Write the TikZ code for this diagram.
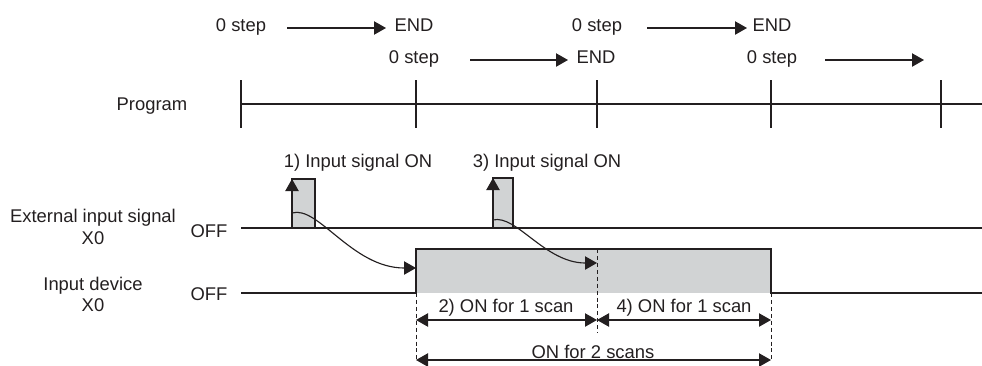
\documentclass[tikz,border=0pt]{standalone}
\usepackage{fontspec}
\setmainfont{Liberation Sans}
\usetikzlibrary{arrows.meta}
\definecolor{sig}{RGB}{209,211,212}
\definecolor{ink}{RGB}{35,31,32}
\tikzset{
  lbl/.style={inner sep=0pt, anchor=base, text=ink, font=\fontsize{13.8}{16}\selectfont},
  ln/.style={draw=ink, line width=0.85pt},
  tip/.style={-{Triangle[length=9pt,width=10pt]}},
  arr/.style={ln, tip},
  dim/.style={ln, {Triangle[length=9pt,width=10pt]}-{Triangle[length=9pt,width=10pt]}},
  dsh/.style={draw=ink, line width=0.75pt, dash pattern=on 3pt off 2.2pt},
  pulse/.style={fill=sig, draw=ink, line width=0.85pt}
}
\begin{document}
\begin{tikzpicture}[x=0.75pt,y=-0.75pt]
\useasboundingbox (0,0) rectangle (982,365);
% ---- program row texts
\node[lbl] (s1) at (241,31) {0 step};
\node[lbl] (e1) at (414,31) {END};
\node[lbl] (s2) at (597,31) {0 step};
\node[lbl] (e2) at (772,31) {END};
\node[lbl] (s3) at (414,63) {0 step};
\node[lbl] (e3) at (596,63) {END};
\node[lbl] (s4) at (772,63) {0 step};
\coordinate (a1s) at (287,28); \coordinate (a1e) at (386,28);
\coordinate (a2s) at (647,28); \coordinate (a2e) at (747,28);
\coordinate (a3s) at (470,60); \coordinate (a3e) at (568,60);
\coordinate (a4s) at (825,60); \coordinate (a4e) at (924,60);
\draw[arr] (a1s) -- (a1e);
\draw[arr] (a2s) -- (a2e);
\draw[arr] (a3s) -- (a3e);
\draw[arr] (a4s) -- (a4e);
% ---- program line
\node[lbl] (prog) at (152,110) {Program};
\coordinate (pl) at (240,104); \coordinate (pr) at (982,104);
\draw[ln] (pl) -- (pr);
\foreach \x/\n in {241/t1,416/t2,597/t3,771/t4,941/t5}{
  \coordinate (\n a) at (\x,80); \coordinate (\n b) at (\x,128);
  \draw[ln] (\n a) -- (\n b);
}
% ---- external input signal
\node[lbl] (ext1) at (93,222) {External input signal};
\node[lbl] (ext2) at (93,244) {X0};
\node[lbl] (off1) at (209,237) {OFF};
\node[lbl] (in1) at (358,167) {1) Input signal ON};
\node[lbl] (in3) at (547,167) {3) Input signal ON};
\coordinate (el) at (241,228); \coordinate (er) at (982,228);
\draw[ln] (el) -- (er);
\draw[pulse] (292,228) rectangle (315,179);
\draw[pulse] (493,228) rectangle (513,178);
\coordinate (p1b) at (292,228); \coordinate (p1t) at (292,179);
\coordinate (p3b) at (493,228); \coordinate (p3t) at (493,178);
\draw[arr] (p1b) -- (p1t);
\draw[arr] (p3b) -- (p3t);
% ---- input device
\node[lbl] (dev1) at (93,290) {Input device};
\node[lbl] (dev2) at (93,311) {X0};
\node[lbl] (off2) at (209,300) {OFF};
\fill[sig] (416,293) rectangle (771,249);
\coordinate (dl) at (241,293); \coordinate (bl) at (416,293);
\coordinate (br) at (771,293); \coordinate (dr) at (982,293);
\draw[ln] (dl) -- (bl) |- (771,249) -- (br) -- (dr);
% ---- curved arrows
\coordinate (c1s) at (292,213); \coordinate (c1e) at (416,268);
\coordinate (c3s) at (493,220); \coordinate (c3e) at (597,263);
\draw[arr] (c1s) .. controls (318,205) and (352,268) .. (c1e);
\draw[arr] (c3s) .. controls (516,214) and (545,263) .. (c3e);
% ---- dashed guides
\coordinate (g1a) at (416,293); \coordinate (g1b) at (416,362);
\coordinate (g2a) at (597,249); \coordinate (g2b) at (597,333);
\coordinate (g3a) at (771,293); \coordinate (g3b) at (771,362);
\draw[dsh] (g1a) -- (g1b);
\draw[dsh] (g2a) -- (g2b);
\draw[dsh] (g3a) -- (g3b);
% ---- dimensions
\node[lbl] (on2) at (506,312) {2) ON for 1 scan};
\node[lbl] (on4) at (684,312) {4) ON for 1 scan};
\node[lbl] (on22) at (593,358) {ON for 2 scans};
\coordinate (d1a) at (416,320); \coordinate (d1b) at (597,320);
\coordinate (d2a) at (597,320); \coordinate (d2b) at (771,320);
\coordinate (d3a) at (416,360); \coordinate (d3b) at (771,360);
\draw[dim] (d1a) -- (d1b);
\draw[dim] (d2a) -- (d2b);
\draw[dim] (d3a) -- (d3b);
\end{tikzpicture}
\end{document}
